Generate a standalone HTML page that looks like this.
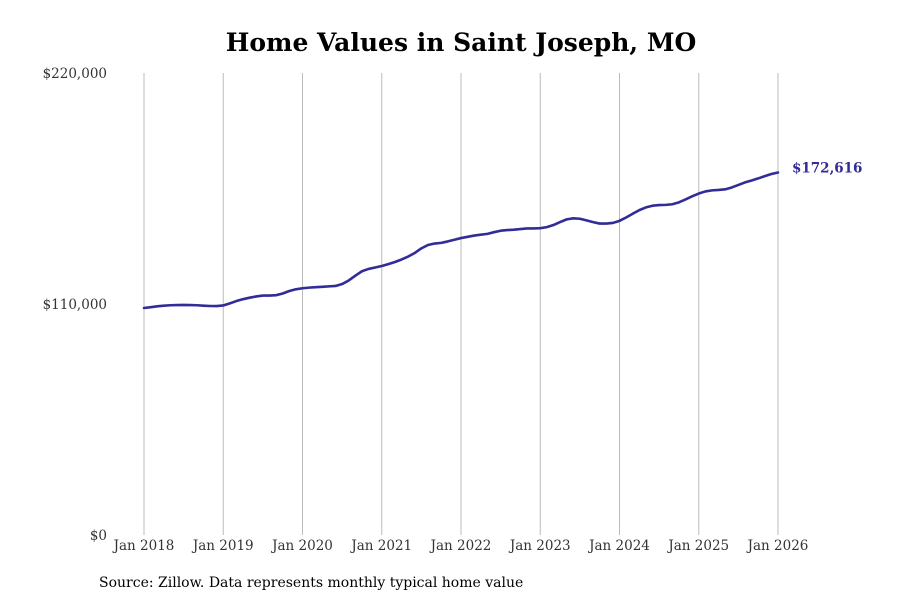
<!DOCTYPE html>
<html><head><meta charset="utf-8"><style>
body{margin:0;background:#fff;}
svg{display:block;font-family:"DejaVu Serif","Liberation Serif",serif;}
</style></head><body>
<svg id="chart" width="900" height="600">
<text x="461" y="51" text-anchor="middle" font-size="25" font-weight="bold" fill="#000">Home Values in Saint Joseph, MO</text>
<g id="grid"></g><g id="yticks"></g><g id="xticks"></g><g id="series"></g>
<text x="99" y="587" font-size="14" fill="#000">Source: Zillow. Data represents monthly typical home value</text>
</svg>
<script>
const yTickValues=[0,110000,220000];
const yTickLabels=["$0","$110,000","$220,000"];
const xTickYears=[2018,2019,2020,2021,2022,2023,2024,2025,2026];
const startYear=2018;
const values=[
108100,108500,108900,109200,109400,109500,109550,109500,109400,109200,109050,109000,
109300,110300,111400,112300,113000,113600,114000,114000,114200,115000,116200,117000,
117500,117800,118000,118200,118400,118600,119500,121200,123500,125600,126700,127400,
128100,129000,130000,131200,132600,134300,136500,138100,138800,139100,139800,140600,
141400,142000,142600,143000,143400,144200,144900,145200,145400,145700,146000,146000,
146100,146600,147600,149000,150300,150800,150600,149800,149000,148300,148300,148600,
149600,151200,153000,154700,156000,156800,157100,157200,157500,158400,159800,161300,
162600,163600,164100,164300,164600,165500,166700,167900,168800,169800,170900,171900,
172616];
const lastLabel="$172,616";
const NS="http://www.w3.org/2000/svg";
const x0=144,x1=778,y0=535,y1=73;
const xs=yr=>x0+(yr-2018)/8*(x1-x0);
const ys=v=>y0-v/220000*(y0-y1);
function mk(t,a,p){const e=document.createElementNS(NS,t);for(const k in a)e.setAttribute(k,a[k]);p.appendChild(e);return e;}
const grid=document.getElementById('grid'),yt=document.getElementById('yticks'),xt=document.getElementById('xticks'),se=document.getElementById('series');
xTickYears.forEach(y=>{
 const l=mk('line',{x1:xs(y),x2:xs(y),y1:y1,y2:y0,stroke:'#bbb','stroke-width':1},grid);
 
 
 const t=mk('text',{x:xs(y),y:550,'text-anchor':'middle','font-size':13.5,fill:'#333'},xt);
 t.textContent='Jan '+y;
 
 
});
yTickValues.forEach((v,i)=>{
 const t=mk('text',{x:107,y:ys(v)+5,'text-anchor':'end','font-size':13.5,fill:'#333'},yt);
 t.textContent=yTickLabels[i];
 
 
});
const d=values.map((v,i)=>(i?'L':'M')+xs(startYear+i/12).toFixed(2)+','+ys(v).toFixed(2)).join(' ');
const p=mk('path',{d:d,fill:'none',stroke:'#312c96','stroke-width':2.6,'stroke-linejoin':'round','stroke-linecap':'round'},se);


const lv=values[values.length-1];
const lt=mk('text',{x:792,y:ys(lv),'font-size':13.5,'font-weight':'bold',fill:'#312c96'},se);
lt.textContent=lastLabel;


</script>
</body></html>
